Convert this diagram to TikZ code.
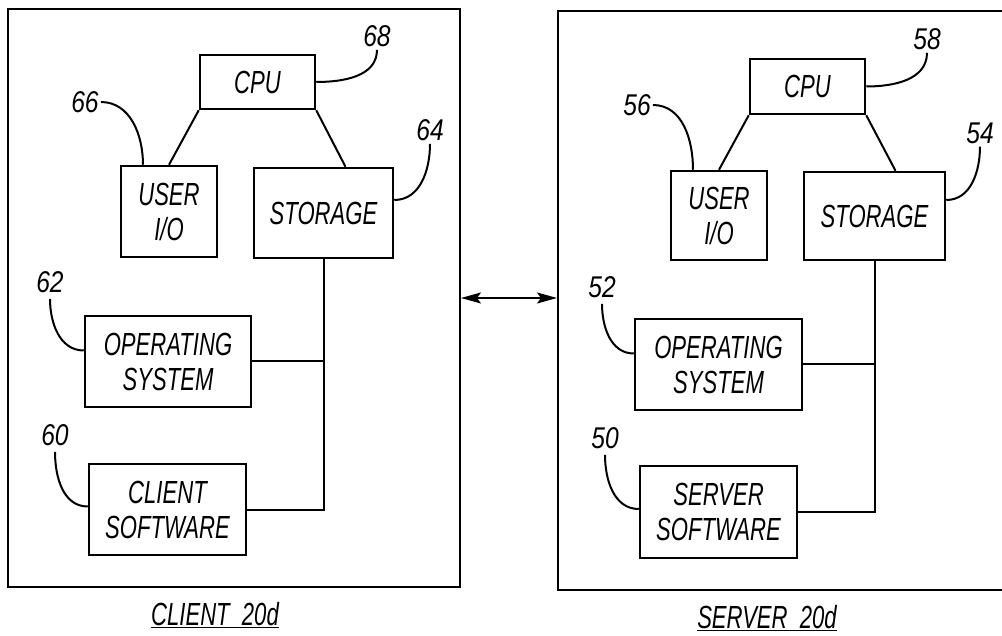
\documentclass[tikz,border=0pt]{standalone}
\usepackage{fontspec}
\newfontfamily\brevet{Liberation Sans}[FakeStretch=0.69]
\newfontfamily\chiffre{Liberation Sans}[FakeStretch=0.82]
\usepackage{tikz}
\usetikzlibrary{arrows.meta}
\tikzset{
  cadre/.style = {draw, line width=2pt, inner sep=0pt},
  bloc/.style = {draw, line width=2.5pt, align=center, inner sep=0pt, font=\brevet\itshape\fontsize{32}{35}\selectfont},
  num/.style = {inner sep=0pt, font=\chiffre\itshape\fontsize{30}{30}\selectfont},
  titre/.style = {inner sep=0pt, font=\brevet\itshape\fontsize{32}{35}\selectfont},
  fil/.style = {line width=2pt},
  repere/.style = {line width=2pt}% traits de renvoi
}

\begin{document}
\begin{tikzpicture}[x=1pt, y=-1pt]
\useasboundingbox (0,0) rectangle (1002,636);
% poste client
\node [cadre, minimum width=452pt, minimum height=578pt] (clientbox) at (234,298) {};
\node [bloc, minimum width=115pt, minimum height=54pt] (cpuC) at (257.5,82) {CPU};
\node [bloc, minimum width=96pt, minimum height=91pt] (userC) at (169,211.5) {USER\\I/O};
\node [bloc, minimum width=139pt, minimum height=90pt] (stoC) at (323.5,213) {STORAGE};
\node [bloc, minimum width=166pt, minimum height=91pt] (osC) at (168,361.5) {OPERATING\\SYSTEM};
\node [bloc, minimum width=157pt, minimum height=91pt] (swC) at (167.5,509.5) {CLIENT\\SOFTWARE};
\node [num] (n68) at (377,36) {68};
\node [num] (n66) at (85,102) {66};
\node [num] (n64) at (430,130) {64};
\node [num] (n62) at (50,282) {62};
\node [num] (n60) at (55,435) {60};
\node [titre] (capC) at (215,615) {\underline{CLIENT\ \ 20d}};

% serveur
\node [cadre, minimum width=472pt, minimum height=579pt] (serverbox) at (794,300.5) {};
\node [bloc, minimum width=115pt, minimum height=55pt] (cpuS) at (807.5,86.5) {CPU};
\node [bloc, minimum width=96pt, minimum height=89pt] (userS) at (719,215.5) {USER\\I/O};
\node [bloc, minimum width=141pt, minimum height=88pt] (stoS) at (874.5,216) {STORAGE};
\node [bloc, minimum width=167pt, minimum height=91pt] (osS) at (718.5,364.5) {OPERATING\\SYSTEM};
\node [bloc, minimum width=157pt, minimum height=92pt] (swS) at (718.5,512) {SERVER\\SOFTWARE};
\node [num] (n58) at (927,39) {58};
\node [num] (n56) at (637,105) {56};
\node [num] (n54) at (980,133) {54};
\node [num] (n52) at (602,287) {52};
\node [num] (n50) at (605,438) {50};
\node [titre] (capS) at (767,618) {\underline{SERVER\ \ 20d}};

% liaisons
\draw [fil] (cpuC.south west) -- (userC.north);
\draw [fil] (cpuC.south east) -- ([xshift=22pt]stoC.north);
\draw [fil] (stoC.south) |- (swC.east);
\draw [fil] (osC.east) -- (osC.east -| stoC.south);
\draw [fil] (cpuS.south west) -- (userS.north);
\draw [fil] (cpuS.south east) -- ([xshift=21pt]stoS.north);
\draw [fil] (stoS.south) |- (swS.east);
\draw [fil] (osS.east) -- (osS.east -| stoS.south);
\draw [fil, {Stealth[length=20pt,width=11pt,inset=4pt]}-{Stealth[length=20pt,width=11pt,inset=4pt]}]
  (clientbox.east) -- (clientbox.east -| serverbox.west);

% renvois
\draw [repere] (cpuC.east) to[out=0, in=-90] ([yshift=-3pt]n68.south);
\draw [repere] ([xshift=2pt]n66.east) to[out=0, in=90] ([xshift=-26pt]userC.north);
\draw [repere] ([yshift=-3pt]n64.south) to[out=-90, in=0] ([yshift=13pt]stoC.east);
\draw [repere] ([yshift=-6pt]n62.south) to[out=-90, in=180] ([yshift=11pt]osC.west);
\draw [repere] ([yshift=-6pt]n60.south) to[out=-90, in=180] ([yshift=3pt]swC.west);
\draw [repere] (cpuS.east) to[out=0, in=-90] ([yshift=-3pt]n58.south);
\draw [repere] ([xshift=2pt]n56.east) to[out=0, in=90] ([xshift=-26pt]userS.north);
\draw [repere] ([yshift=-3pt]n54.south) to[out=-90, in=0] ([yshift=16pt]stoS.east);
\draw [repere] ([yshift=-6pt]n52.south) to[out=-90, in=180] ([yshift=11pt]osS.west);
\draw [repere] ([yshift=-6pt]n50.south) to[out=-90, in=180] ([yshift=3pt]swS.west);
\end{tikzpicture}
\end{document}
